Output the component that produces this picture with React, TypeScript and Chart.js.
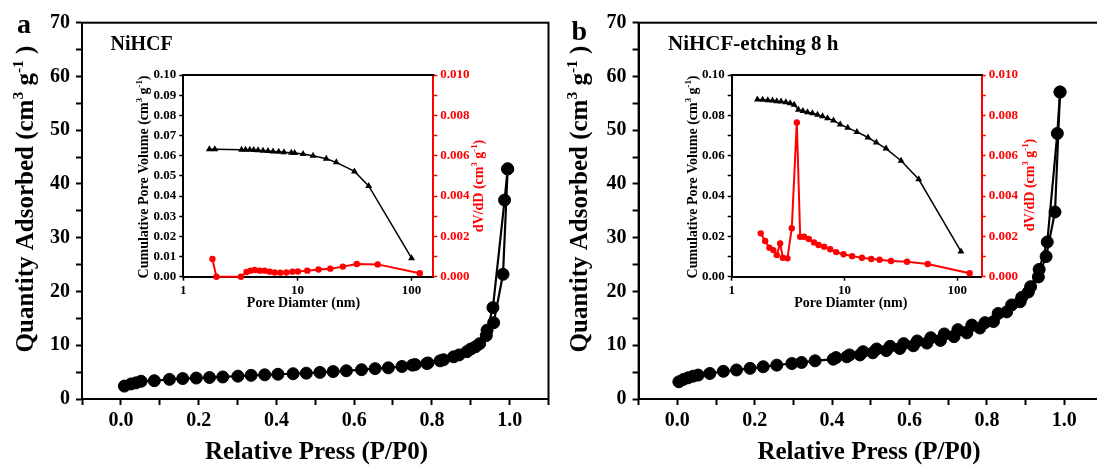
import React, { useEffect, useRef } from 'react';
import { Chart, registerables } from 'chart.js';
Chart.register(...registerables);

const FONT = '"Liberation Serif", "Times New Roman", Times, serif';
const RED = '#ff0000';

// ---------- Panel a : NiHCF isotherm ----------
const pressureAAds = [0.009, 0.026, 0.039, 0.052, 0.086, 0.125, 0.159, 0.194, 0.228, 0.262, 0.301, 0.335, 0.370, 0.404, 0.443, 0.477, 0.512, 0.546, 0.580, 0.619, 0.654, 0.688, 0.723, 0.757, 0.787, 0.821, 0.856, 0.890, 0.912, 0.940, 0.959, 0.983, 0.995];
const quantityAAds = [2.4, 2.8, 3.0, 3.3, 3.4, 3.65, 3.8, 3.9, 4.0, 4.1, 4.25, 4.4, 4.5, 4.6, 4.7, 4.8, 4.95, 5.1, 5.25, 5.45, 5.65, 5.8, 6.05, 6.4, 6.6, 7.1, 7.85, 8.8, 9.7, 11.8, 14.2, 23.2, 42.8];
const pressureADes = [0.995, 0.987, 0.957, 0.942, 0.923, 0.900, 0.870, 0.830, 0.790, 0.750];
const quantityADes = [42.8, 37.0, 17.0, 12.8, 10.3, 9.3, 8.2, 7.3, 6.7, 6.3];

// ---------- Panel b : NiHCF-etching 8 h isotherm ----------
const pressureBAds = [0.004, 0.016, 0.028, 0.041, 0.054, 0.084, 0.119, 0.153, 0.188, 0.222, 0.257, 0.296, 0.321, 0.356, 0.403, 0.438, 0.472, 0.505, 0.540, 0.575, 0.610, 0.645, 0.680, 0.715, 0.748, 0.782, 0.817, 0.851, 0.886, 0.907, 0.933, 0.953, 0.976, 0.989];
const quantityBAds = [3.2, 3.65, 3.95, 4.25, 4.45, 4.75, 5.15, 5.4, 5.7, 6.0, 6.3, 6.6, 6.8, 7.1, 7.4, 7.85, 8.2, 8.6, 9.0, 9.4, 9.9, 10.4, 10.9, 11.6, 12.3, 13.2, 14.4, 16.2, 18.1, 19.9, 22.7, 26.5, 34.8, 57.1];
const pressureBDes = [0.989, 0.982, 0.956, 0.935, 0.913, 0.890, 0.864, 0.829, 0.795, 0.761, 0.725, 0.690, 0.655, 0.620, 0.585, 0.550, 0.515, 0.480, 0.445, 0.410];
const quantityBDes = [57.1, 49.4, 29.2, 24.1, 20.9, 18.9, 17.5, 15.9, 14.2, 13.75, 12.9, 12.1, 11.4, 10.8, 10.3, 9.8, 9.3, 8.8, 8.2, 7.7];

// ---------- Inset a ----------
const diameterACum = [1.69, 1.89, 3.24, 3.51, 3.83, 4.14, 4.52, 5.0, 5.52, 6.11, 6.85, 7.62, 8.84, 9.46, 11.2, 13.7, 17.9, 21.9, 31.6, 42.1, 100];
const cumVolumeA = [0.0632, 0.0632, 0.0630, 0.0630, 0.0629, 0.0628, 0.0627, 0.0625, 0.0623, 0.0621, 0.0619, 0.0617, 0.0615, 0.0613, 0.0608, 0.0600, 0.0585, 0.0567, 0.0522, 0.0450, 0.0092];
const diameterADist = [1.8, 1.95, 3.2, 3.58, 3.88, 4.23, 4.68, 5.17, 5.72, 6.32, 7.08, 8.0, 9.02, 10.1, 12.2, 15.3, 19.4, 25.0, 33.1, 50.5, 118];
const dVdDA = [0.00088, 0, 0, 0.00023, 0.0003, 0.00033, 0.0003, 0.0003, 0.00025, 0.00021, 0.0002, 0.00021, 0.00025, 0.00026, 0.0003, 0.00036, 0.0004, 0.0005, 0.00063, 0.00061, 0.00017];

// ---------- Inset b ----------
const diameterBCum = [1.69, 1.88, 2.09, 2.30, 2.51, 2.74, 3.02, 3.30, 3.58, 3.91, 4.28, 4.70, 5.20, 5.77, 6.39, 7.08, 8.0, 9.18, 10.7, 12.9, 16.2, 19.2, 23.4, 31.8, 45.6, 108];
const cumVolumeB = [0.0879, 0.0877, 0.0875, 0.0873, 0.0870, 0.0868, 0.0865, 0.0860, 0.0853, 0.0828, 0.0822, 0.0815, 0.0810, 0.0803, 0.0795, 0.0785, 0.0775, 0.0755, 0.0738, 0.0718, 0.0690, 0.0665, 0.0635, 0.0575, 0.0483, 0.0125];
const diameterBDist = [1.81, 1.98, 2.16, 2.34, 2.51, 2.69, 2.84, 3.12, 3.41, 3.78, 4.05, 4.39, 4.83, 5.38, 5.89, 6.61, 7.48, 8.45, 9.82, 11.7, 14.3, 17.3, 20.5, 25.9, 35.9, 54.8, 129];
const dVdDB = [0.00215, 0.00177, 0.00144, 0.00132, 0.00107, 0.00165, 0.00094, 0.00091, 0.0024, 0.00765, 0.00198, 0.00198, 0.00187, 0.0017, 0.00157, 0.00149, 0.00136, 0.00122, 0.00111, 0.00102, 0.00094, 0.00088, 0.00084, 0.00078, 0.00074, 0.00063, 0.00017];

const mainXTicks = [0.0, 0.2, 0.4, 0.6, 0.8, 1.0];
const mainYTicks = [0, 10, 20, 30, 40, 50, 60, 70];
const insetXTicks = [1, 10, 100];

type Seg = { t: string; sup?: boolean };
type TextItem = { segs: Seg[]; x: number; y: number; size: number; color?: string; rotate?: boolean; align?: 'left' | 'center' };

const pts = (xs: number[], ys: number[]) => xs.map((x, i) => ({ x, y: ys[i] }));

function drawRich(ctx: CanvasRenderingContext2D, t: TextItem) {
  ctx.save();
  ctx.translate(t.x, t.y);
  if (t.rotate) ctx.rotate(-Math.PI / 2);
  const sup = t.size * 0.62;
  let total = 0;
  const ws = t.segs.map((s) => {
    ctx.font = `bold ${s.sup ? sup : t.size}px ${FONT}`;
    const w = ctx.measureText(s.t).width;
    total += w;
    return w;
  });
  let x = t.align === 'left' ? 0 : -total / 2;
  ctx.fillStyle = t.color || '#000';
  ctx.textBaseline = 'alphabetic';
  ctx.textAlign = 'left';
  t.segs.forEach((s, i) => {
    ctx.font = `bold ${s.sup ? sup : t.size}px ${FONT}`;
    ctx.fillText(s.t, x, s.sup ? -t.size * 0.4 : 0);
    x += ws[i];
  });
  ctx.restore();
}

function framePlugin(mode: 'full' | 'top', texts: TextItem[]) {
  return {
    id: 'frame',
    afterDraw(chart: any) {
      const { ctx, chartArea: a } = chart;
      ctx.save();
      ctx.strokeStyle = '#000';
      ctx.lineWidth = 2;
      if (mode === 'full') {
        ctx.strokeRect(a.left, a.top, a.right - a.left, a.bottom - a.top);
      } else {
        ctx.beginPath();
        ctx.moveTo(a.left - 1, a.top);
        ctx.lineTo(a.right + 1, a.top);
        ctx.stroke();
      }
      ctx.restore();
      texts.forEach((t) => drawRich(ctx, t));
    },
  };
}

const cm3g = (pre: string, post: string): Seg[] => [
  { t: pre + '(cm' },
  { t: '3', sup: true },
  { t: ' g' },
  { t: '-1', sup: true },
  { t: post },
];

function mainConfig(ads: any[], des: any[], leftW: number, padRight: number, texts: TextItem[]) {
  return {
    type: 'scatter',
    data: {
      datasets: [ads, des].map((d) => ({
        data: d,
        showLine: true,
        borderColor: '#000',
        backgroundColor: '#000',
        borderWidth: 2.2,
        pointRadius: 6,
        pointBorderWidth: 1,
        pointBorderColor: '#000',
        pointBackgroundColor: '#000',
      })),
    },
    options: {
      animation: false,
      responsive: false,
      devicePixelRatio: 1,
      layout: { padding: { left: 0, top: 22.7, right: padRight, bottom: 0 } },
      plugins: { legend: { display: false }, tooltip: { enabled: false } },
      scales: {
        x: {
          type: 'linear',
          min: -0.1,
          max: 1.1,
          afterFit: (s: any) => { s.height = 67; },
          afterBuildTicks: (s: any) => {
            const t: any[] = [];
            for (let k = -1; k <= 11; k++) t.push({ value: k / 10 });
            s.ticks = t;
          },
          grid: { drawOnChartArea: false, drawTicks: true, tickLength: 6, tickWidth: 2, tickColor: '#000' },
          border: { display: true, color: '#000', width: 2 },
          ticks: {
            autoSkip: false,
            maxRotation: 0,
            padding: 4,
            color: '#000',
            font: { family: FONT, size: 20, weight: 'bold' },
            callback: (v: number) => {
              const k = Math.round(v * 10);
              return mainXTicks.some((m) => Math.round(m * 10) === k) ? (k / 10).toFixed(1) : '';
            },
          },
        },
        y: {
          type: 'linear',
          min: 0,
          max: 70,
          afterFit: (s: any) => { s.width = leftW; },
          afterBuildTicks: (s: any) => {
            const t: any[] = [];
            for (let v = 0; v <= 70; v += 5) t.push({ value: v });
            s.ticks = t;
          },
          grid: { drawOnChartArea: false, drawTicks: true, tickLength: 6, tickWidth: 2, tickColor: '#000' },
          border: { display: true, color: '#000', width: 2 },
          ticks: {
            autoSkip: false,
            padding: 6,
            color: '#000',
            font: { family: FONT, size: 20, weight: 'bold' },
            callback: (v: number) => (mainYTicks.includes(Math.round(v)) ? String(Math.round(v)) : ''),
          },
        },
      },
    },
    plugins: [framePlugin('full', texts)],
  };
}

function insetConfig(cum: any[], dist: any[], xMax: number, leftStep: number, labelEvery: number, leftW: number, padRight: number, texts: TextItem[]) {
  return {
    type: 'scatter',
    data: {
      datasets: [
        {
          data: cum,
          yAxisID: 'y',
          showLine: true,
          borderColor: '#000',
          backgroundColor: '#000',
          borderWidth: 1.5,
          pointStyle: 'triangle',
          pointRadius: 4,
          pointBorderWidth: 0,
          pointBackgroundColor: '#000',
          clip: false,
        },
        {
          data: dist,
          yAxisID: 'y1',
          showLine: true,
          borderColor: RED,
          backgroundColor: RED,
          borderWidth: 2,
          pointStyle: 'circle',
          pointRadius: 3.2,
          pointBorderWidth: 0,
          pointBackgroundColor: RED,
          clip: false,
        },
      ],
    },
    options: {
      animation: false,
      responsive: false,
      devicePixelRatio: 1,
      layout: { padding: { left: 0, top: 35, right: padRight, bottom: 0 } },
      plugins: { legend: { display: false }, tooltip: { enabled: false } },
      scales: {
        x: {
          type: 'logarithmic',
          min: 1,
          max: xMax,
          afterFit: (s: any) => { s.height = 53.3; },
          afterBuildTicks: (s: any) => { s.ticks = insetXTicks.map((v) => ({ value: v })); },
          grid: { drawOnChartArea: false, drawTicks: true, tickLength: 4, tickWidth: 1.5, tickColor: '#000' },
          border: { display: true, color: '#000', width: 2 },
          ticks: {
            autoSkip: false,
            maxRotation: 0,
            padding: 2,
            color: '#000',
            font: { family: FONT, size: 13, weight: 'bold' },
            callback: (v: number) => String(v),
          },
        },
        y: {
          type: 'linear',
          position: 'left',
          min: 0,
          max: 0.1,
          afterFit: (s: any) => { s.width = leftW; },
          afterBuildTicks: (s: any) => {
            const t: any[] = [];
            for (let k = 0; k <= 10; k += leftStep) t.push({ value: k / 100 });
            s.ticks = t;
          },
          grid: { drawOnChartArea: false, drawTicks: true, tickLength: 4, tickWidth: 1.5, tickColor: '#000' },
          border: { display: true, color: '#000', width: 2 },
          ticks: {
            autoSkip: false,
            padding: 3,
            color: '#000',
            font: { family: FONT, size: 13, weight: 'bold' },
            callback: (v: number) => {
              const k = Math.round(v * 100);
              return k % labelEvery === 0 ? (k / 100).toFixed(2) : '';
            },
          },
        },
        y1: {
          type: 'linear',
          position: 'right',
          min: 0,
          max: 0.01,
          afterFit: (s: any) => { s.width = 60; },
          afterBuildTicks: (s: any) => {
            const t: any[] = [];
            for (let k = 0; k <= 10; k++) t.push({ value: k / 1000 });
            s.ticks = t;
          },
          grid: { drawOnChartArea: false, drawTicks: true, tickLength: 4, tickWidth: 1.5, tickColor: RED },
          border: { display: true, color: RED, width: 2 },
          ticks: {
            autoSkip: false,
            padding: 3,
            color: RED,
            font: { family: FONT, size: 13, weight: 'bold' },
            callback: (v: number) => {
              const k = Math.round(v * 1000);
              return k % 2 === 0 ? (k / 1000).toFixed(3) : '';
            },
          },
        },
      },
    },
    plugins: [framePlugin('top', texts)],
  };
}

function ChartCanvas({ config, left, top, width, height }: any) {
  const ref = useRef<HTMLCanvasElement>(null);
  useEffect(() => {
    const chart = new Chart(ref.current as HTMLCanvasElement, config());
    return () => chart.destroy();
  }, []);
  return (
    <canvas
      ref={ref}
      width={width}
      height={height}
      style={{ position: 'absolute', left, top, width, height }}
    />
  );
}

const yTitleMain: Seg[] = [{ t: 'Quantity Adsorbed ' }, ...cm3g('', ' )')];
const xTitleMain: Seg[] = [{ t: 'Relative Press (P/P0)' }];
const yTitleInset: Seg[] = [{ t: 'Cumulative Pore Volume ' }, ...cm3g('', ')')];
const y1TitleInset: Seg[] = [{ t: 'dV/dD ' }, ...cm3g('', ')')];
const xTitleInset: Seg[] = [{ t: 'Pore Diamter (nm)' }];

export default function App() {
  const mainA = () =>
    mainConfig(pts(pressureAAds, quantityAAds), pts(pressureADes, quantityADes), 82, 11.5, [
      { segs: [{ t: 'a' }], x: 17, y: 33, size: 28, align: 'left' },
      { segs: [{ t: 'NiHCF' }], x: 110.5, y: 50, size: 20, align: 'left' },
      { segs: yTitleMain, x: 33, y: 199, size: 25, rotate: true },
      { segs: xTitleMain, x: 316.5, y: 459, size: 25 },
    ]);
  const mainB = () =>
    mainConfig(pts(pressureBAds, quantityBAds), pts(pressureBDes, quantityBDes), 88.6, 7, [
      { segs: [{ t: 'b' }], x: 21.6, y: 39.5, size: 28, align: 'left' },
      { segs: [{ t: 'NiHCF-etching 8 h' }], x: 118, y: 50, size: 21, align: 'left' },
      { segs: yTitleMain, x: 37, y: 199, size: 25, rotate: true },
      { segs: xTitleMain, x: 319, y: 459, size: 25 },
    ]);
  const insetA = () =>
    insetConfig(pts(diameterACum, cumVolumeA), pts(diameterADist, dVdDA), 155, 1, 1, 83.3, 6.7, [
      { segs: yTitleInset, x: 48, y: 137, size: 14, rotate: true },
      { segs: y1TitleInset, x: 383, y: 146, size: 14, rotate: true, color: RED },
      { segs: xTitleInset, x: 203.5, y: 267, size: 14 },
    ]);
  const insetB = () =>
    insetConfig(pts(diameterBCum, cumVolumeB), pts(diameterBDist, dVdDB), 165, 1, 2, 83.7, 6.3, [
      { segs: yTitleInset, x: 49, y: 137, size: 14, rotate: true },
      { segs: y1TitleInset, x: 386, y: 145, size: 14, rotate: true, color: RED },
      { segs: xTitleInset, x: 202.8, y: 267, size: 14 },
    ]);
  return (
    <div style={{ position: 'fixed', left: 0, top: 0, width: 1097, height: 466, overflow: 'hidden', background: '#fff' }}>
      <ChartCanvas config={mainA} left={0} top={0} width={560} height={466} />
      <ChartCanvas config={mainB} left={550} top={0} width={560} height={466} />
      <ChartCanvas config={insetA} left={100} top={40} width={400} height={290} />
      <ChartCanvas config={insetB} left={648} top={40} width={400} height={290} />
    </div>
  );
}
